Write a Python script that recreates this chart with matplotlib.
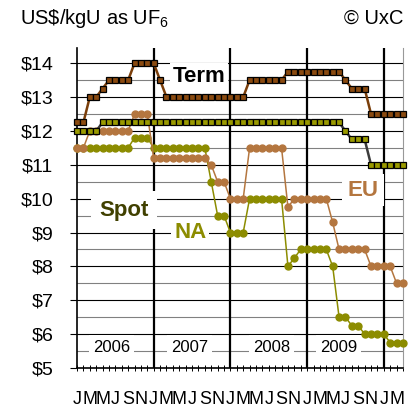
import numpy as np
import matplotlib
matplotlib.use("Agg")
import matplotlib.pyplot as plt
from matplotlib.ticker import FixedLocator

plt.rcParams['font.family'] = ['Liberation Sans', 'DejaVu Sans']
plt.rcParams['mathtext.fontset'] = 'custom'
plt.rcParams['mathtext.rm'] = 'Liberation Sans'

# ---------------------------------
# Data: month-end prices, Dec 2005 .. Mar 2010 (US$/kgU as UF6)
# ---------------------------------
months = np.arange(52)
term = [12.25, 12.25, 13.0, 13.0, 13.25, 13.5, 13.5, 13.5, 13.5, 14.0, 14.0, 14.0, 14.0,
        13.5, 13.0, 13.0, 13.0, 13.0, 13.0, 13.0, 13.0, 13.0, 13.0, 13.0, 13.0, 13.0, 13.0,
        13.5, 13.5, 13.5, 13.5, 13.5, 13.5,
        13.75, 13.75, 13.75, 13.75, 13.75, 13.75, 13.75, 13.75, 13.75,
        13.5, 13.25, 13.25, 13.25, 12.5, 12.5, 12.5, 12.5, 12.5, 12.5]
spot = [12.0] * 4 + [12.25] * 38 + [12.0] + [11.75] * 3 + [11.0] * 6
eu = ([11.5] * 2 + [12.0] * 7 + [12.5] * 3 + [11.2] * 9 + [11.0] + [10.5] * 2 + [10.0] * 3
      + [11.5] * 6 + [9.75] + [10.0] * 6 + [9.3] + [8.5] * 5 + [8.0] * 4 + [7.5] * 2)
na = ([11.5] * 9 + [11.8] * 3 + [11.5] * 9 + [10.5] + [9.5] * 2 + [9.0] * 3 + [10.0] * 6
      + [8.0] + [8.25] + [8.5] * 5 + [8.0] + [6.5] * 2 + [6.25] * 2 + [6.0] * 4 + [5.75] * 3)

years = ['2006', '2007', '2008', '2009']
month_letters = ['J', 'M', 'M', 'J', 'S', 'N']

# ---------------------------------
# Figure
# ---------------------------------
fig = plt.figure(figsize=(4.17, 4.08), dpi=100)
ax = fig.add_axes([77 / 417, 40 / 408, 326 / 417, 320 / 408])

ax.set_xlim(0, 51)
ax.set_ylim(5, 14.45)

# grid
for v in np.arange(5.5, 14.5, 1.0):
    ax.axhline(v, color='#808080', lw=0.8, zorder=1)
for v in np.arange(6, 15, 1.0):
    ax.axhline(v, color='black', lw=0.8, zorder=1)
for m in [12, 24, 36, 48]:
    ax.axvline(m, color='black', lw=1.6, zorder=1)

# series
ax.plot(months, na, color='#8C8C00', lw=1.1, marker='o', ms=5, mec='#8C8C00',
        mfc='#8C8C00', zorder=3, clip_on=False)
ax.plot(months, eu, color='#B4763F', lw=1.1, marker='o', ms=5, mec='#B4763F',
        mfc='#B4763F', zorder=4, clip_on=False)
ax.plot(months, spot, color='#3C3C3C', lw=1.8, marker='s', ms=4.6, mec='black',
        mfc='#9A9A00', mew=0.9, zorder=5, clip_on=False)
ax.plot(months, term, color='#7A3E0A', lw=1.8, marker='s', ms=4.6, mec='black',
        mfc='#8A4A10', mew=0.9, zorder=6, clip_on=False)

# series labels
box = dict(facecolor='white', edgecolor='none', pad=2)
ax.text(19.1, 13.61, 'Term', fontsize=16, fontweight='bold', color='black',
        ha='center', va='center', bbox=box, zorder=2)
ax.text(7.3, 9.66, 'Spot', fontsize=16, fontweight='bold', color='#404000',
        ha='center', va='center', bbox=dict(facecolor='white', edgecolor='none', pad=6), zorder=2)
ax.text(17.7, 9.01, 'NA', fontsize=16, fontweight='bold', color='#8C8C00',
        ha='center', va='center', bbox=box, zorder=2)
ax.text(44.8, 10.25, 'EU', fontsize=16, fontweight='bold', color='#B4763F',
        ha='center', va='center', bbox=dict(facecolor='white', edgecolor='none', pad=4), zorder=2)
for x, yr in zip([5.4, 17.6, 30.4, 40.9], years):
    ax.text(x, 5.62, yr, fontsize=12, ha='center', va='center',
            bbox=dict(facecolor='white', edgecolor='none', pad=3), zorder=2)

# axes
ax.spines['top'].set_visible(False)
ax.spines['right'].set_color('#999999')
ax.spines['left'].set_linewidth(1.2)
ax.spines['bottom'].set_linewidth(1.2)

ax.set_yticks(np.arange(5, 15, 1))
ax.set_yticklabels(['$%d' % v for v in range(5, 15)], fontsize=14)
ax.tick_params(axis='y', length=5, width=0.8, pad=12)

ax.xaxis.set_major_locator(FixedLocator(np.arange(0, 51, 2)))
ax.set_xticklabels([month_letters[(i // 2) % 6] for i in range(0, 51, 2)], fontsize=13)
ax.xaxis.set_minor_locator(FixedLocator(np.arange(1, 52, 2)))
ax.tick_params(axis='x', which='both', direction='inout', length=5, width=0.7, pad=14)

fig.text(20 / 417, 0.941, r'US\$/kgU as UF$\mathregular{_6}$', fontsize=14.5, ha='left', va='baseline')
fig.text(403 / 417, 0.941, '\u00a9 UxC', fontsize=14.5, ha='right', va='baseline')

plt.savefig('out.png', dpi=100)
